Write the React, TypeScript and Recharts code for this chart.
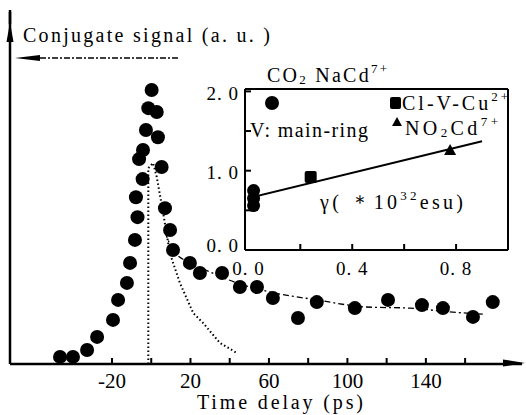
import { ComposedChart, Scatter, Line, XAxis, YAxis } from "recharts"

const FONT = "'Liberation Serif', 'DejaVu Serif', 'Times New Roman', serif"

// main panel: conjugate signal vs time delay (ps)
const measuredDelay = [
  -46.5, -39.9, -32.7, -27.6, -19.5, -16.9, -12.4, -10.8, -8.3, -7.0, -7.8, -4.4, -6.2, -4.2, -2.7,
  3.4, -1.5, 2.8, 0.2, 5.3, 7.0, 9.6, 11.1, 19.7, 24.8, 36.1, 45.2, 53.9, 62.0, 74.8, 84.4, 103.8,
  120.7, 138.0, 148.7, 164.0, 174.1,
]
const measuredSignal = [
  0.026, 0.026, 0.051, 0.099, 0.161, 0.234, 0.296, 0.369, 0.453, 0.536, 0.609, 0.675, 0.748, 0.781, 0.854,
  0.828, 0.934, 0.92, 1.0, 0.719, 0.569, 0.489, 0.416, 0.369, 0.332, 0.332, 0.281, 0.281, 0.241, 0.168,
  0.226, 0.204, 0.234, 0.215, 0.204, 0.172, 0.226,
]

const fitDelay = [7.0, 11.1, 19.7, 29.9, 45.2, 60.5, 84.4, 109.9, 131.8, 152.2, 169.0]
const fitSignal = [0.482, 0.416, 0.369, 0.336, 0.292, 0.263, 0.234, 0.208, 0.204, 0.19, 0.182]

const pulseDelay = [-1.5, -1.5, 0.9, 2.8, 6.1, 9.5, 14.6, 21.4, 26.4, 35.0, 43.7]
const pulseSignal = [0, 0.715, 0.734, 0.683, 0.55, 0.404, 0.296, 0.186, 0.15, 0.077, 0.04]

const delayTicks = [-20, 0, 20, 40, 60, 80, 100, 120, 140, 160]
const labeledDelays = [-20, 20, 60, 100, 140]

// inset: signal vs gamma
const co2X = [0.02, 0.02, 0.02]
const co2Y = [0.75, 0.65, 0.56]
const clX = [0.24]
const clY = [0.92]
const no2X = [0.777]
const no2Y = [1.26]
const insetFitX = [0.02, 0.9]
const insetFitY = [0.67, 1.37]

const gammaTicks = [0, 0.2, 0.4, 0.6, 0.8]
const labeledGamma = [0, 0.4, 0.8]
const insetYTicks = [0, 0.5, 1.0, 1.5, 2.0]
const labeledInsetY = [0, 1, 2]

const zip = (xs: number[], ys: number[], kx: string, ky: string) =>
  xs.map((v, i) => ({ [kx]: v, [ky]: ys[i] }))

const measured = zip(measuredDelay, measuredSignal, "t", "s")
const fit = zip(fitDelay, fitSignal, "t", "s")
const pulse = zip(pulseDelay, pulseSignal, "t", "s")
const co2 = zip(co2X, co2Y, "x", "y")
const cl = zip(clX, clY, "x", "y")
const no2 = zip(no2X, no2Y, "x", "y")
const insetFit = zip(insetFitX, insetFitY, "x", "y")

const fmt = (v: number) => v.toFixed(1).replace(".", ". ")

function MainXTick({ x, y, payload }: any) {
  const v = payload.value
  return (
    <g>
      <line x1={x} y1={y} x2={x} y2={y - 6} stroke="#000" strokeWidth={2} />
      {labeledDelays.includes(v) && (
        <text x={x} y={y + 17} textAnchor="middle" dominantBaseline="central" fontSize={21} fontFamily={FONT} fill="#000">
          {v}
        </text>
      )}
    </g>
  )
}

function InsetXTick({ x, y, payload }: any) {
  const v = payload.value
  return (
    <g>
      {v > 0 && <line x1={x} y1={y} x2={x} y2={y - 6} stroke="#000" strokeWidth={2} />}
      {labeledGamma.includes(v) && (
        <text x={x} y={y + 18} textAnchor="middle" dominantBaseline="central" fontSize={19} fontFamily={FONT} fill="#000" letterSpacing={1}>
          {fmt(v)}
        </text>
      )}
    </g>
  )
}

function InsetYTick({ x, y, payload }: any) {
  const v = payload.value
  return (
    <g>
      {v > 0 && <line x1={x} y1={y} x2={x + 6} y2={y} stroke="#000" strokeWidth={2} />}
      {labeledInsetY.includes(v) && (
        <text x={x - 6} y={v === 0 ? y - 5 : y + 2} textAnchor="end" dominantBaseline="central" fontSize={19} fontFamily={FONT} fill="#000" letterSpacing={1}>
          {fmt(v)}
        </text>
      )}
    </g>
  )
}

function RightTick({ x, y }: any) {
  return <line x1={x - 4} y1={y} x2={x + 4} y2={y} stroke="#000" strokeWidth={2} />
}

const Dot = (props: any) => <circle cx={props.cx} cy={props.cy} r={7} fill="#000" />
const SmallDot = (props: any) => <circle cx={props.cx} cy={props.cy} r={6.5} fill="#000" />
const Square = (props: any) => <rect x={props.cx - 6} y={props.cy - 6} width={12} height={12} rx={2} fill="#000" />
const Tri = (props: any) => (
  <polygon points={`${props.cx},${props.cy - 6} ${props.cx - 6},${props.cy + 5} ${props.cx + 6},${props.cy + 5}`} fill="#000" />
)

export default function App() {
  return (
    <div style={{ position: "absolute", left: 0, top: 0, width: 526, height: 415, background: "#fff", fontFamily: FONT }}>
      <ComposedChart width={526} height={415} margin={{ top: 12, right: 4, bottom: 50, left: 9 }}>
        <XAxis
          dataKey="t"
          type="number"
          domain={[-72, 189]}
          ticks={delayTicks}
          height={1}
          tickSize={0}
          tickMargin={0}
          tickLine={false}
          tick={(p: any) => <MainXTick {...p} />}
          axisLine={{ stroke: "#000", strokeWidth: 2.5 }}
          allowDataOverflow
        />
        <YAxis
          dataKey="s"
          type="number"
          domain={[0, 1.285]}
          width={1}
          tick={false}
          tickLine={false}
          axisLine={{ stroke: "#000", strokeWidth: 2.5 }}
          allowDataOverflow
        />
        <Line data={pulse} dataKey="s" type="linear" stroke="#000" strokeWidth={2} strokeDasharray="1.5 2.5" dot={false} isAnimationActive={false} />
        <Line data={fit} dataKey="s" type="monotone" stroke="#000" strokeWidth={1.3} strokeDasharray="6 3 2 3" dot={false} isAnimationActive={false} />
        <Scatter data={measured} dataKey="s" fill="#000" shape={Dot} isAnimationActive={false} />
      </ComposedChart>

      <div style={{ position: "absolute", left: 200, top: 60, width: 320, height: 220 }}>
        <ComposedChart width={320} height={220} margin={{ top: 28, right: 11, bottom: 29, left: 44 }}>
          <XAxis
            dataKey="x"
            type="number"
            domain={[-0.013, 1.0]}
            ticks={gammaTicks}
            height={1}
            tickSize={0}
            tickMargin={0}
            tickLine={false}
            tick={(p: any) => <InsetXTick {...p} />}
            axisLine={{ stroke: "#000", strokeWidth: 2 }}
            allowDataOverflow
          />
          <XAxis xAxisId="top" orientation="top" type="number" domain={[-0.013, 1.0]} height={1} tick={false} tickLine={false} axisLine={{ stroke: "#000", strokeWidth: 2 }} />
          <YAxis
            dataKey="y"
            type="number"
            domain={[0, 2.03]}
            ticks={insetYTicks}
            width={1}
            tickSize={0}
            tickMargin={0}
            tickLine={false}
            tick={(p: any) => <InsetYTick {...p} />}
            axisLine={{ stroke: "#000", strokeWidth: 2 }}
            allowDataOverflow
          />
          <YAxis
            yAxisId="r"
            orientation="right"
            type="number"
            domain={[0, 2.03]}
            ticks={[1.5]}
            width={1}
            tickSize={0}
            tickMargin={0}
            tickLine={false}
            tick={(p: any) => <RightTick {...p} />}
            axisLine={{ stroke: "#000", strokeWidth: 2 }}
          />
          <Line data={insetFit} dataKey="y" type="linear" stroke="#000" strokeWidth={2} dot={false} isAnimationActive={false} />
          <Scatter data={co2} dataKey="y" shape={SmallDot} isAnimationActive={false} />
          <Scatter data={cl} dataKey="y" shape={Square} isAnimationActive={false} />
          <Scatter data={no2} dataKey="y" shape={Tri} isAnimationActive={false} />
        </ComposedChart>
      </div>

      <svg width={526} height={415} style={{ position: "absolute", left: 0, top: 0, pointerEvents: "none" }} fontFamily={FONT}>
        {/* axis arrow heads */}
        <polygon points="10,22 6.5,42 13.5,42" fill="#000" />
        <line x1={10} y1={10} x2={10} y2={24} stroke="#000" strokeWidth={2.5} />
        <polygon points="525,363 503,359.5 503,366.5" fill="#000" />
        {/* y-axis pointer */}
        <polygon points="15,58 40,55 40,61" fill="#000" />
        <line x1={40} y1={58} x2={180} y2={58} stroke="#000" strokeWidth={1.5} strokeDasharray="6 2 2 2" />
        <text x={23} y={35} dominantBaseline="central" fontSize={20} textLength={247} lengthAdjust="spacing" fill="#000">
          Conjugate signal (a. u. )
        </text>
        <text x={197} y={402} dominantBaseline="central" fontSize={20} textLength={166} lengthAdjust="spacing" fill="#000">
          Time delay (ps)
        </text>

        {/* inset annotations */}
        <text x={267} y={75} dominantBaseline="central" fontSize={20} textLength={120} lengthAdjust="spacing" fill="#000">
          CO<tspan fontSize={13} dy={4}>2</tspan>
          <tspan dy={-4}> NaCd</tspan>
          <tspan fontSize={13} dy={-7}>7+</tspan>
        </text>
        <circle cx={272} cy={103} r={7} fill="#000" />
        <rect x={390} y={97} width={11} height={12} rx={2} fill="#000" />
        <text x={402} y={103} dominantBaseline="central" fontSize={20} textLength={106} lengthAdjust="spacing" fill="#000">
          Cl-V-Cu<tspan fontSize={13} dy={-7}>2+</tspan>
        </text>
        <text x={250} y={130} dominantBaseline="central" fontSize={20} textLength={118} lengthAdjust="spacing" fill="#000">
          V: main-ring
        </text>
        <polygon points="397,117 392,126 402,126" fill="#000" />
        <text x={405} y={128} dominantBaseline="central" fontSize={20} textLength={93} lengthAdjust="spacing" fill="#000">
          NO<tspan fontSize={13} dy={4}>2</tspan>
          <tspan dy={-4}>Cd</tspan>
          <tspan fontSize={13} dy={-7}>7+</tspan>
        </text>
        <text x={320} y={202} dominantBaseline="central" fontSize={20} textLength={143} lengthAdjust="spacing" fill="#000">
          γ( ＊10<tspan fontSize={13} dy={-7}>32</tspan>
          <tspan dy={7}>esu)</tspan>
        </text>
      </svg>
    </div>
  )
}
